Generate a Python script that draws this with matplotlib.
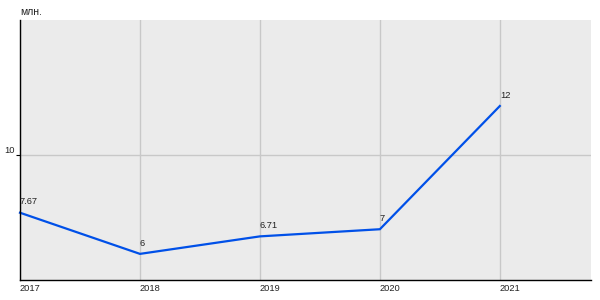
import matplotlib
matplotlib.use("Agg")
import matplotlib.pyplot as plt

# ============================================================================
# DATA
# ============================================================================

YEARS = [2017, 2018, 2019, 2020, 2021]
VALUES = [7.67, 6, 6.71, 7, 12]
VALUE_LABELS = ["7.67", "6", "6.71", "7", "12"]
Y_TICKS = [10]
UNIT_LABEL = "млн."

# ============================================================================
# PLOT
# ============================================================================

def main():
    plt.rcParams['font.family'] = ['Liberation Sans', 'DejaVu Sans']
    fig = plt.figure(figsize=(6, 3), dpi=100)
    ax = fig.add_axes([20 / 600, 20 / 300, 571 / 600, 260 / 300])
    ax.set_facecolor('#ebebeb')

    ax.set_xlim(2017, 2021.76)
    ax.set_ylim(4.94, 15.49)

    ax.set_xticks(YEARS)
    ax.set_xticklabels([str(y) for y in YEARS], fontsize=6.7, color='#222222', ha='left')
    ax.set_yticks(Y_TICKS)
    ax.set_yticklabels([str(t) for t in Y_TICKS], fontsize=6.7, color='#222222', va='bottom')
    ax.tick_params(axis='x', length=0, pad=3)
    ax.tick_params(axis='y', length=3, width=0.8, pad=1)

    ax.grid(True, color='#c8c8c8', linewidth=1.0)
    ax.set_axisbelow(True)
    for side in ('top', 'right'):
        ax.spines[side].set_visible(False)
    for side in ('left', 'bottom'):
        ax.spines[side].set_color('black')
        ax.spines[side].set_linewidth(1.0)

    ax.plot(YEARS, VALUES, color='#0050e8', linewidth=1.6, solid_joinstyle='miter', clip_on=False)

    for x, y, lab in zip(YEARS, VALUES, VALUE_LABELS):
        ax.annotate(lab, (x, y), xytext=(0, 4.5), textcoords='offset points',
                    ha='left', va='bottom', fontsize=6.7, color='#222222')

    fig.text(20 / 600, 1 - 12 / 300, UNIT_LABEL, fontsize=7.5, color='#222222',
             ha='left', va='center')

    fig.savefig('out.png', dpi=100, facecolor='white')
    plt.close(fig)


if __name__ == '__main__':
    main()
